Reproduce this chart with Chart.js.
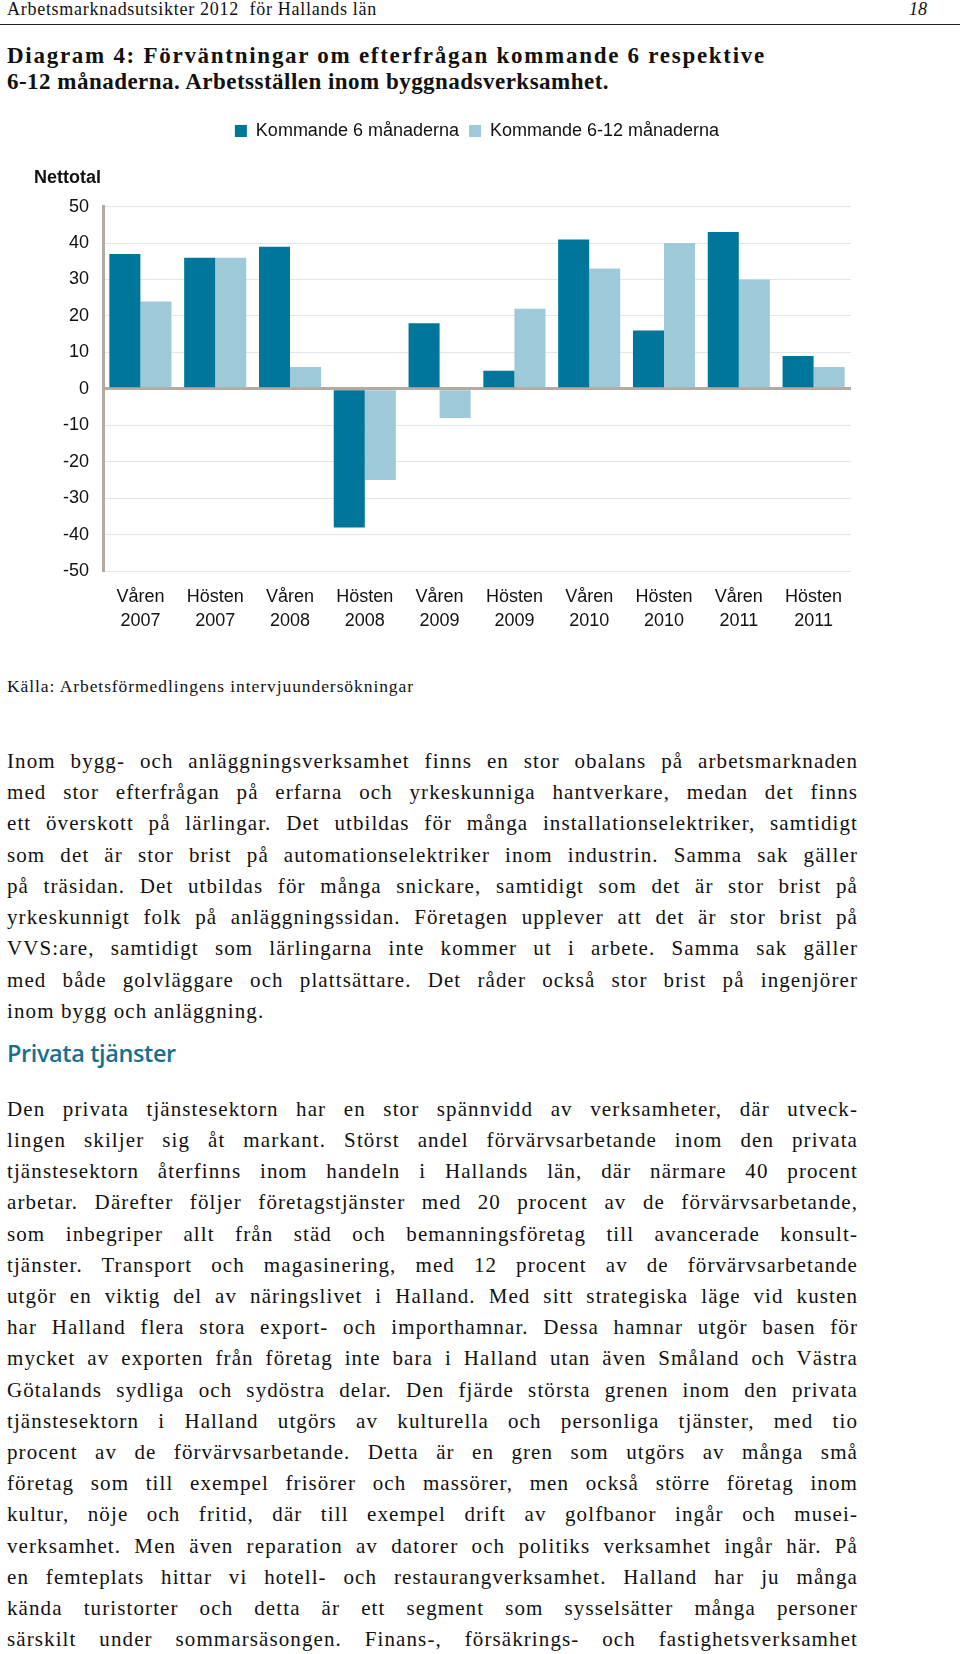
<!doctype html>
<html lang="sv">
<head>
<meta charset="utf-8">
<title>Diagram 4: Förväntningar om efterfrågan</title>
<style>
  * { margin: 0; padding: 0; }
  body {
    width: 960px; height: 1654px; position: relative; overflow: hidden;
    background: #fff; color: #111;
    font-family: "Liberation Serif", "DejaVu Serif", serif;
  }
  .t { position: absolute; white-space: nowrap; }
  .head { left: 7px; top: -1px; font-size: 18px; line-height: 20px; }
  .pageno { left: 909px; top: -1px; font-size: 18px; line-height: 20px; font-style: italic; }
  .rule { position: absolute; left: 0; top: 24px; width: 960px; height: 0; border-top: 1.5px solid #222; }
  .title { left: 7px; font-size: 23px; line-height: 26px; font-weight: bold; }
  .source { left: 7px; top: 676px; font-size: 17.5px; line-height: 20px; }
  .chartBox { position: absolute; left: 0; top: 105px; width: 960px; height: 554px; }
  .line { left: 7px; font-size: 21px; line-height: 30px; }
  .h2 { left: 7px; top: 1037px; font-family: "Open Sans", "Noto Sans", sans-serif; font-size: 23.5px;
        font-weight: 600; line-height: 32px; color: #17708d; letter-spacing: -0.4px; }
</style>
</head>
<body>
  <div class="t head" id="head">Arbetsmarknadsutsikter 2012&nbsp; för Hallands län</div>
  <div class="t pageno">18</div>
  <div class="rule"></div>
  <div class="t title" id="title1" style="top:43px">Diagram 4: Förväntningar om efterfrågan kommande 6 respektive</div>
  <div class="t title" id="title2" style="top:69px">6-12 månaderna. Arbetsställen inom byggnadsverksamhet.</div>

  <div class="chartBox">
    <canvas id="myChart" width="960" height="554"></canvas>
  </div>

  <div class="t source" id="source">Källa: Arbetsförmedlingens intervjuundersökningar</div>
  <div class="t h2">Privata tjänster</div>
  <div id="text"></div>

<script src="https://cdn.jsdelivr.net/npm/chart.js"></script>
<script>
  // data
  const categories = [
    ['Våren', '2007'], ['Hösten', '2007'], ['Våren', '2008'], ['Hösten', '2008'], ['Våren', '2009'],
    ['Hösten', '2009'], ['Våren', '2010'], ['Hösten', '2010'], ['Våren', '2011'], ['Hösten', '2011']
  ];
  const kommande6 = [37, 36, 39, -38, 18, 5, 41, 16, 43, 9];
  const kommande6till12 = [24, 36, 6, -25, -8, 22, 33, 40, 30, 6];
  const yMin = -50, yMax = 50, yStep = 10;

  const para1 = [
    'Inom bygg- och anläggningsverksamhet finns en stor obalans på arbetsmarknaden',
    'med stor efterfrågan på erfarna och yrkeskunniga hantverkare, medan det finns',
    'ett överskott på lärlingar. Det utbildas för många installationselektriker, samtidigt',
    'som det är stor brist på automationselektriker inom industrin. Samma sak gäller',
    'på träsidan. Det utbildas för många snickare, samtidigt som det är stor brist på',
    'yrkeskunnigt folk på anläggningssidan. Företagen upplever att det är stor brist på',
    'VVS:are, samtidigt som lärlingarna inte kommer ut i arbete. Samma sak gäller',
    'med både golvläggare och plattsättare. Det råder också stor brist på ingenjörer',
    'inom bygg och anläggning.'
  ];
  const para2 = [
    'Den privata tjänstesektorn har en stor spännvidd av verksamheter, där utveck-',
    'lingen skiljer sig åt markant. Störst andel förvärvsarbetande inom den privata',
    'tjänstesektorn återfinns inom handeln i Hallands län, där närmare 40 procent',
    'arbetar. Därefter följer företagstjänster med 20 procent av de förvärvsarbetande,',
    'som inbegriper allt från städ och bemanningsföretag till avancerade konsult-',
    'tjänster. Transport och magasinering, med 12 procent av de förvärvsarbetande',
    'utgör en viktig del av näringslivet i Halland. Med sitt strategiska läge vid kusten',
    'har Halland flera stora export- och importhamnar. Dessa hamnar utgör basen för',
    'mycket av exporten från företag inte bara i Halland utan även Småland och Västra',
    'Götalands sydliga och sydöstra delar. Den fjärde största grenen inom den privata',
    'tjänstesektorn i Halland utgörs av kulturella och personliga tjänster, med tio',
    'procent av de förvärvsarbetande. Detta är en gren som utgörs av många små',
    'företag som till exempel frisörer och massörer, men också större företag inom',
    'kultur, nöje och fritid, där till exempel drift av golfbanor ingår och musei-',
    'verksamhet. Men även reparation av datorer och politiks verksamhet ingår här. På',
    'en femteplats hittar vi hotell- och restaurangverksamhet. Halland har ju många',
    'kända turistorter och detta är ett segment som sysselsätter många personer',
    'särskilt under sommarsäsongen. Finans-, försäkrings- och fastighetsverksamhet'
  ];

  // text lines, justified one by one: some letter spacing, the rest between words
  const textBox = document.getElementById('text');
  const lineWidth = 851, maxLetterSpace = 1.1;
  function addLines(lines, firstCenter, step, lastJustified) {
    lines.forEach((s, i) => {
      const d = document.createElement('div');
      d.className = 't line';
      d.textContent = s;
      d.style.top = (firstCenter + i * step - 15) + 'px';
      textBox.appendChild(d);
      const w = d.getBoundingClientRect().width;
      const n = (s.match(/ /g) || []).length;
      let ls = Math.min(maxLetterSpace, (lineWidth - w) / s.length * 0.55);
      d.style.letterSpacing = ls + 'px';
      if (i < lines.length - 1 || lastJustified) {
        const w2 = d.getBoundingClientRect().width;
        d.style.wordSpacing = ((lineWidth - w2) / n) + 'px';
      }
    });
  }
  addLines(para1, 760.6, 31.3, false);
  addLines(para2, 1108.7, 31.2, true);

  function spreadLetters(id, target) {
    const el = document.getElementById(id);
    const w = el.getBoundingClientRect().width;
    el.style.letterSpacing = ((target - w) / el.textContent.length) + 'px';
  }
  spreadLetters('head', 370);
  spreadLetters('title1', 759);
  spreadLetters('title2', 602);
  spreadLetters('source', 407);

  // chart
  const sans = '"Liberation Sans", Arial, sans-serif';
  const axisColor = '#b3aba3';

  const data = {
    labels: categories,
    datasets: [{
      label: 'Kommande 6 månaderna',
      data: kommande6,
      backgroundColor: '#00769a',
      borderWidth: 0,
      categoryPercentage: 0.83,
      barPercentage: 1.0
    }, {
      label: 'Kommande 6-12 månaderna',
      data: kommande6till12,
      backgroundColor: '#9ec9d9',
      borderWidth: 0,
      categoryPercentage: 0.83,
      barPercentage: 1.0
    }]
  };

  const config = {
    type: 'bar',
    data,
    options: {
      responsive: false,
      animation: false,
      layout: { padding: { left: 34, right: 109, top: 7, bottom: 12 } },
      plugins: {
        legend: {
          position: 'top',
          fullSize: false,
          labels: { boxWidth: 12, boxHeight: 12, padding: 10, color: '#111', font: { family: sans, size: 18 } }
        },
        title: {
          display: true,
          text: 'Nettotal',
          align: 'start',
          weight: 500,
          color: '#111',
          font: { family: sans, size: 18, weight: 'bold' },
          padding: { top: 17, bottom: 18 }
        },
        tooltip: { enabled: false }
      },
      scales: {
        x: {
          grid: { display: false, drawTicks: false },
          border: { display: false },
          ticks: {
            color: '#111', font: { family: sans, size: 18, lineHeight: 1.33 },
            padding: 14, maxRotation: 0, autoSkip: false
          }
        },
        y: {
          min: yMin,
          max: yMax,
          ticks: { stepSize: yStep, color: '#111', font: { family: sans, size: 18 }, padding: 14 },
          grid: {
            drawTicks: false,
            color: c => c.tick && c.tick.value === 0 ? axisColor : '#e4e4e4',
            lineWidth: c => c.tick && c.tick.value === 0 ? 3 : 1
          },
          border: { color: axisColor, width: 3 },
          afterFit: s => { s.width = 69; }
        }
      }
    }
  };

  const myChart = new Chart(document.getElementById('myChart'), config);
</script>
</body>
</html>
